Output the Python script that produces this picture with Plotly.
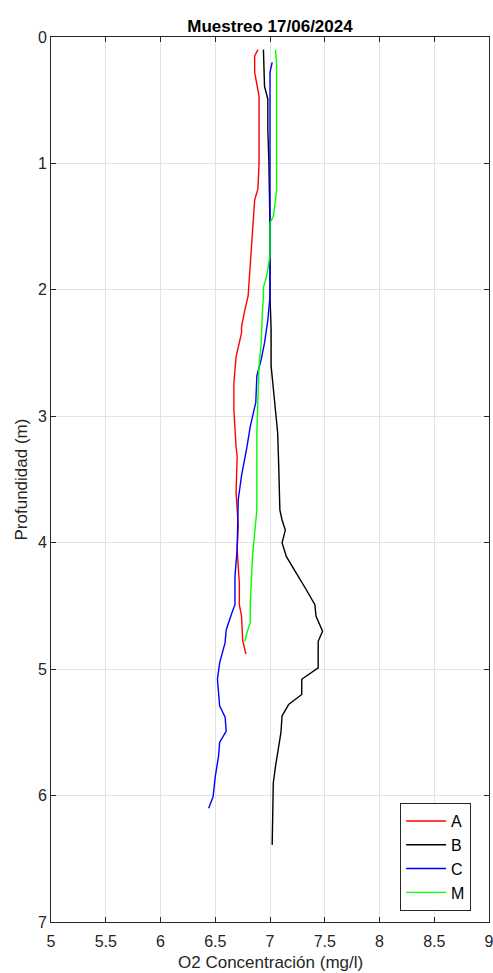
import plotly.graph_objects as go

# Series A (red)
depth_a = [0.10, 0.15, 0.28, 0.47, 1.00, 1.20, 1.29, 1.52, 1.79, 2.05, 2.16, 2.29, 2.34, 2.53,
           2.74, 2.95, 3.24, 3.32, 3.60, 3.87, 4.05, 4.32, 4.49, 4.58, 4.77, 4.88]
o2_a = [6.89, 6.86, 6.86, 6.90, 6.90, 6.89, 6.86, 6.84, 6.82, 6.80, 6.77, 6.74, 6.74, 6.69,
        6.67, 6.67, 6.69, 6.70, 6.69, 6.71, 6.70, 6.72, 6.72, 6.74, 6.75, 6.78]

# Series B (black)
depth_b = [0.10, 0.39, 0.49, 0.73, 0.99, 1.52, 2.05, 2.31, 2.60, 2.86, 3.13, 3.40, 3.74, 3.82,
           3.90, 4.00, 4.11, 4.24, 4.32, 4.37, 4.49, 4.58, 4.70, 4.78, 4.99, 5.08, 5.20, 5.28,
           5.37, 5.50, 5.77, 5.90, 6.39]
o2_b = [6.94, 6.95, 6.98, 6.98, 6.99, 7.00, 7.00, 7.01, 7.01, 7.04, 7.07, 7.08, 7.09, 7.11,
        7.14, 7.11, 7.15, 7.24, 7.30, 7.33, 7.41, 7.42, 7.48, 7.44, 7.44, 7.29, 7.29, 7.17,
        7.11, 7.10, 7.05, 7.03, 7.02]

# Series C (blue)
depth_c = [0.20, 0.28, 1.00, 1.47, 1.79, 2.05, 2.24, 2.42, 2.55, 2.68, 2.89, 3.08, 3.24, 3.47,
           3.66, 4.05, 4.27, 4.49, 4.56, 4.69, 4.79, 4.95, 5.08, 5.29, 5.38, 5.49, 5.58, 5.69,
           5.85, 6.01, 6.10]
o2_c = [7.02, 7.00, 7.00, 7.00, 7.00, 7.00, 6.98, 6.95, 6.92, 6.88, 6.87, 6.82, 6.79, 6.74,
        6.71, 6.70, 6.68, 6.68, 6.65, 6.60, 6.59, 6.54, 6.52, 6.54, 6.59, 6.60, 6.54, 6.53,
        6.50, 6.48, 6.44]

# Series M (green)
depth_m = [0.10, 0.20, 0.73, 1.21, 1.36, 1.42, 1.47, 1.73, 1.89, 1.98, 2.05, 2.18, 2.42, 2.60,
           2.86, 3.13, 3.53, 3.74, 3.92, 4.11, 4.48, 4.63, 4.71, 4.78]
o2_m = [7.05, 7.06, 7.06, 7.06, 7.04, 7.03, 7.00, 7.00, 6.97, 6.94, 6.94, 6.93, 6.92, 6.90,
        6.89, 6.88, 6.88, 6.88, 6.86, 6.84, 6.82, 6.82, 6.79, 6.77]

x_ticks = [5, 5.5, 6, 6.5, 7, 7.5, 8, 8.5, 9]
x_tick_labels = ["5", "5.5", "6", "6.5", "7", "7.5", "8", "8.5", "9"]
y_ticks = [0, 1, 2, 3, 4, 5, 6, 7]

series = [
    ("A", o2_a, depth_a, "#ff0000"),
    ("B", o2_b, depth_b, "#000000"),
    ("C", o2_c, depth_c, "#0000ff"),
    ("M", o2_m, depth_m, "#00ff00"),
]

fig = go.Figure()
for name, xs, ys, col in series:
    fig.add_trace(go.Scatter(x=xs, y=ys, mode="lines", name=name,
                             line=dict(color=col, width=1.4)))

font_family = "Liberation Sans, Arial, sans-serif"
tick_font = dict(family=font_family, size=16, color="#262626")
axis_common = dict(
    showline=True, linecolor="#262626", linewidth=1, mirror="ticks",
    ticks="inside", ticklen=5, tickcolor="#262626", tickwidth=1,
    showgrid=True, gridcolor="#e3e3e3", gridwidth=1, zeroline=False,
    automargin=False, ticklabeloverflow="allow", tickfont=tick_font,
)

annotations = [
    dict(text="O2 Concentración (mg/l)", xref="paper", yref="paper",
         x=0.5, y=0, xanchor="center", yanchor="middle", yshift=-40,
         showarrow=False, font=dict(family=font_family, size=17, color="#262626")),
    dict(text="Profundidad (m)", xref="paper", yref="paper",
         x=0, y=0.5, xanchor="center", yanchor="middle", xshift=-30,
         textangle=-90, showarrow=False,
         font=dict(family=font_family, size=17, color="#262626")),
]

fig.update_layout(
    width=493, height=973,
    margin=dict(l=51, r=4, t=37, b=51),
    paper_bgcolor="white", plot_bgcolor="white",
    title=dict(text="<b>Muestreo 17/06/2024</b>", x=0.5, xref="paper", xanchor="center",
               y=1, yref="paper", yanchor="bottom", pad=dict(b=5),
               font=dict(family=font_family, size=17, color="#000000")),
    xaxis=dict(range=[5, 9], tickvals=x_ticks, ticktext=x_tick_labels,
               ticklabelstandoff=5, **axis_common),
    yaxis=dict(range=[7, 0], tickvals=y_ticks, **axis_common),
    legend=dict(x=0.797, y=0.0734, xanchor="left", yanchor="middle",
                bgcolor="white", bordercolor="#262626", borderwidth=1,
                font=dict(family=font_family, size=16, color="#000000"),
                tracegroupgap=0, itemwidth=40),
    showlegend=True,
    annotations=annotations,
)

# remove the browser's default 8px body margin so the figure fills the window exactly
fig.write_html("out.html", config={"displayModeBar": False},
               post_script="document.body.style.margin='0';document.body.style.overflow='hidden';")
